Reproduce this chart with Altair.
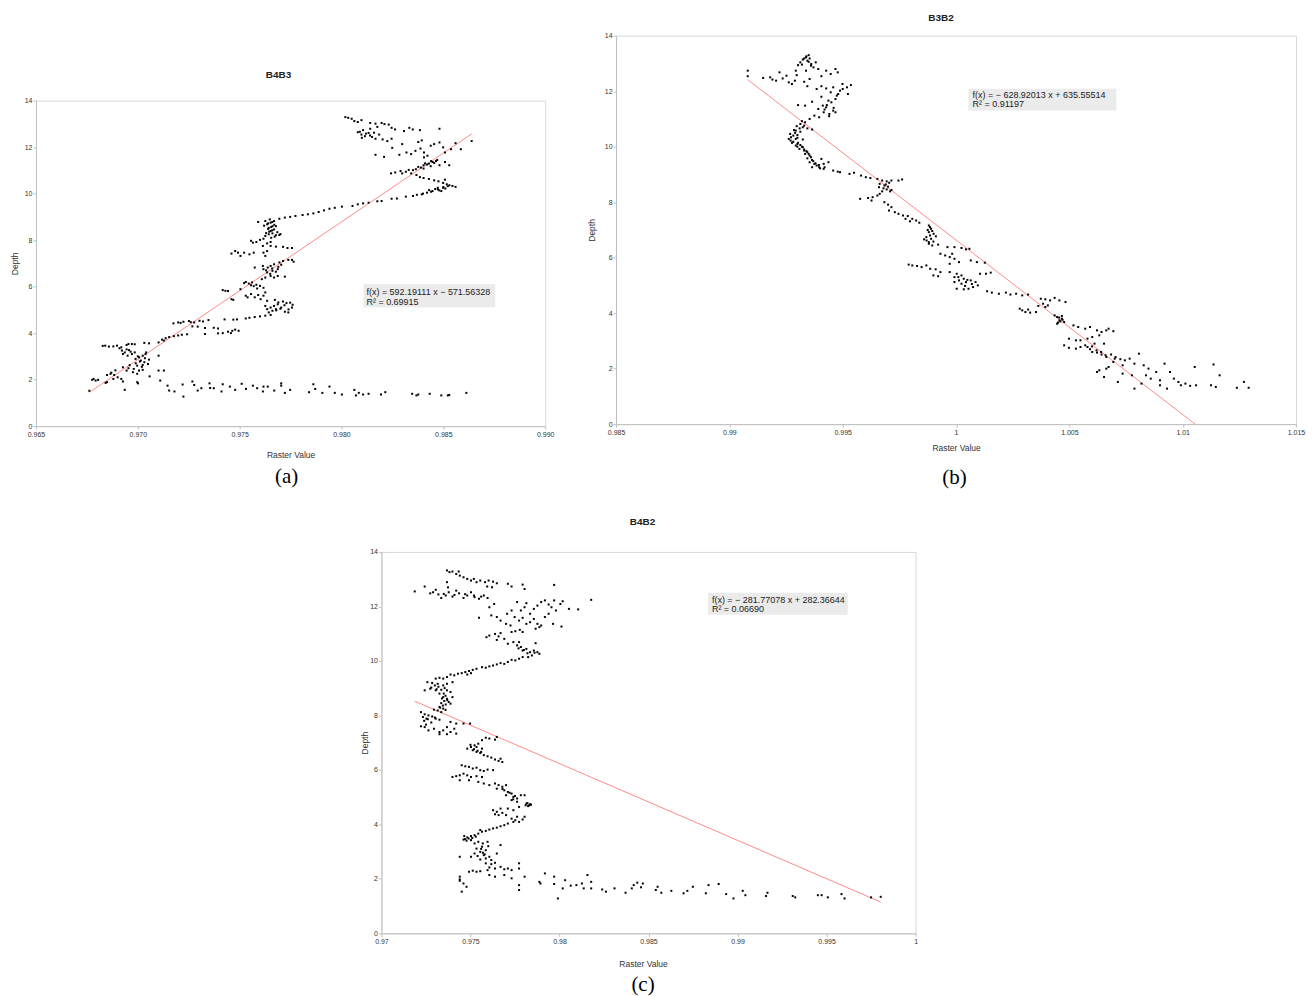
import altair as alt
import pandas as pd

# ---------------- data ----------------
TITLES = ["B4B3", "B3B2", "B4B2"]
CAPTIONS = ["(a)", "(b)", "(c)"]
EQUATIONS = ["f(x) = 592.19111 x − 571.56328",
             "f(x) = − 628.92013 x + 635.55514",
             "f(x) = − 281.77078 x + 282.36644"]
R_SQUARED = ["R² = 0.69915", "R² = 0.91197", "R² = 0.06690"]
SLOPES = [592.19111, -628.92013, -281.77078]
INTERCEPTS = [-571.56328, 635.55514, 282.36644]
X_DOMAINS = [[0.965, 0.990], [0.985, 1.015], [0.97, 1.0]]
X_TICKS = [[0.965, 0.970, 0.975, 0.980, 0.985, 0.990],
           [0.985, 0.99, 0.995, 1, 1.005, 1.01, 1.015],
           [0.97, 0.975, 0.98, 0.985, 0.99, 0.995, 1]]
X_FORMATS = [".3f", "~g", "~g"]
Y_TICKS = [0, 2, 4, 6, 8, 10, 12, 14]

# (raster value, depth)
A_POINTS = [
    (0.96762, 1.52), (0.96936, 1.56), (0.97001, 1.84), (0.97058, 2.14), (0.97102, 2.39), (0.97128, 2.39),
    (0.97110, 1.96), (0.97146, 1.74), (0.97154, 1.53), (0.97180, 1.49), (0.97224, 1.27), (0.97220, 1.79),
    (0.97268, 1.92), (0.97277, 1.77), (0.97294, 1.53), (0.97312, 1.63), (0.97352, 1.84), (0.97355, 1.64),
    (0.97373, 1.63), (0.97411, 1.49), (0.97417, 1.80), (0.97452, 1.70), (0.97478, 1.56), (0.97510, 1.82),
    (0.97531, 1.60), (0.97565, 1.74), (0.97586, 1.63), (0.97617, 1.70), (0.97614, 1.49), (0.97638, 1.70),
    (0.97670, 1.53), (0.97704, 1.84), (0.97704, 1.74), (0.97722, 1.43), (0.97748, 1.56), (0.97841, 1.46),
    (0.97862, 1.80), (0.97871, 1.60), (0.97906, 1.43), (0.97941, 1.70), (0.97967, 1.43), (0.98002, 1.36),
    (0.98063, 1.56), (0.98071, 1.32), (0.98085, 1.43), (0.98106, 1.36), (0.98133, 1.39), (0.98194, 1.36),
    (0.98215, 1.46), (0.98347, 1.39), (0.98368, 1.32), (0.98377, 1.36), (0.98433, 1.39), (0.98490, 1.32),
    (0.98522, 1.32), (0.98529, 1.34), (0.98613, 1.43),
    (0.96828, 3.45), (0.96840, 3.46), (0.96858, 3.42), (0.96880, 3.43), (0.96898, 3.46), (0.96919, 3.39),
    (0.96945, 3.49), (0.96954, 3.53), (0.96971, 3.53), (0.96985, 3.52), (0.97032, 3.58), (0.97055, 3.56),
    (0.96910, 3.35), (0.96922, 3.25), (0.96936, 3.17), (0.96957, 3.27), (0.96971, 3.10), (0.96985, 3.17),
    (0.96927, 3.10), (0.96950, 3.03), (0.96989, 2.89), (0.97006, 2.96), (0.97024, 3.03), (0.97038, 3.10),
    (0.97015, 2.82), (0.97032, 2.75), (0.97050, 2.67), (0.97024, 2.63), (0.96997, 2.60), (0.97055, 2.86),
    (0.97102, 3.03), (0.97041, 3.17), (0.96927, 2.53), (0.96954, 2.49), (0.96980, 2.46), (0.97006, 2.39),
    (0.96976, 2.32), (0.96997, 2.25), (0.97024, 2.42), (0.96945, 2.39), (0.96783, 2.03), (0.96793, 1.96),
    (0.96805, 1.99), (0.96842, 1.86), (0.96849, 2.20), (0.96866, 2.25), (0.96884, 2.20), (0.96901, 2.10),
    (0.96919, 2.03), (0.96927, 1.92), (0.96849, 1.89), (0.96880, 2.03), (0.96997, 1.89), (0.96776, 1.99),
    (0.96990, 2.70), (0.97010, 2.78), (0.97035, 2.92), (0.97000, 3.00), (0.96965, 3.20), (0.96945, 3.30),
    (0.97020, 2.55), (0.96960, 2.62), (0.96890, 2.40), (0.96870, 2.30),
    (0.97102, 3.60), (0.97119, 3.72), (0.97137, 3.78), (0.97154, 3.83), (0.97177, 3.87), (0.97198, 3.90),
    (0.97216, 3.93), (0.97242, 3.95), (0.97128, 3.68),
    (0.97175, 4.42), (0.97198, 4.46), (0.97224, 4.49), (0.97251, 4.52), (0.97277, 4.46), (0.97303, 4.53),
    (0.97347, 4.56), (0.97268, 4.29), (0.97294, 4.28), (0.97330, 4.22), (0.97373, 4.23), (0.97394, 4.20),
    (0.97330, 3.96), (0.97394, 3.99), (0.97417, 4.00), (0.97443, 4.06), (0.97464, 4.10), (0.97478, 4.15),
    (0.97495, 4.10), (0.97457, 4.00), (0.97426, 4.59), (0.97210, 4.44), (0.97260, 4.47), (0.97320, 4.50),
    (0.97469, 4.58), (0.97487, 4.59), (0.97530, 4.63), (0.97548, 4.66), (0.97574, 4.69), (0.97600, 4.72),
    (0.97626, 4.75), (0.97652, 4.78), (0.97643, 4.89), (0.97661, 4.96), (0.97678, 5.03), (0.97652, 5.10),
    (0.97669, 5.17), (0.97687, 5.24), (0.97704, 5.10), (0.97722, 4.92), (0.97739, 4.89), (0.97757, 5.10),
    (0.97748, 5.31), (0.97713, 5.36), (0.97673, 5.43), (0.97730, 5.29), (0.97635, 5.03), (0.97626, 5.17),
    (0.97680, 4.98), (0.97700, 5.05), (0.97720, 5.20), (0.97690, 5.32), (0.97740, 5.02), (0.97760, 5.22),
    (0.97417, 5.85), (0.97430, 5.82), (0.97443, 5.81), (0.97460, 5.46), (0.97469, 5.43), (0.97530, 5.61),
    (0.97539, 5.54), (0.97574, 5.54), (0.97591, 5.64), (0.97617, 5.61), (0.97603, 5.46), (0.97626, 5.75),
    (0.97556, 5.68), (0.97635, 5.39), (0.97504, 5.89),
    (0.97522, 6.15), (0.97530, 6.20), (0.97545, 6.13), (0.97556, 6.06), (0.97569, 6.02), (0.97582, 6.08),
    (0.97600, 6.03), (0.97617, 5.95), (0.97586, 5.92), (0.97561, 6.18),
    (0.97609, 6.32), (0.97626, 6.39), (0.97652, 6.46), (0.97669, 6.39), (0.97687, 6.46), (0.97722, 6.43),
    (0.97635, 6.61), (0.97661, 6.68), (0.97678, 6.64), (0.97617, 6.75), (0.97638, 6.82), (0.97614, 6.89),
    (0.97652, 6.89), (0.97669, 6.96), (0.97695, 7.04), (0.97713, 7.10), (0.97739, 7.15), (0.97765, 7.07),
    (0.97704, 6.94), (0.97574, 6.82), (0.97687, 6.75), (0.97757, 7.15),
    (0.97650, 6.55), (0.97630, 6.70), (0.97660, 6.78), (0.97690, 6.85),
    (0.97460, 7.42), (0.97478, 7.53), (0.97492, 7.46), (0.97504, 7.32), (0.97522, 7.46), (0.97548, 7.39),
    (0.97569, 7.46), (0.97617, 7.46), (0.97626, 7.32), (0.97652, 7.75), (0.97678, 7.72), (0.97713, 7.71),
    (0.97735, 7.66), (0.97757, 7.66), (0.97635, 7.53),
    (0.97556, 7.97), (0.97565, 7.89), (0.97582, 7.92), (0.97600, 8.01), (0.97617, 8.06), (0.97635, 7.86),
    (0.97652, 7.92), (0.97614, 7.75),
    (0.97626, 8.18), (0.97643, 8.25), (0.97661, 8.29), (0.97678, 8.21), (0.97695, 8.22), (0.97652, 8.39),
    (0.97669, 8.46), (0.97643, 8.53), (0.97661, 8.60), (0.97635, 8.68), (0.97652, 8.75), (0.97626, 8.82),
    (0.97669, 8.82), (0.97591, 8.78), (0.97648, 8.89), (0.97678, 8.60),
    (0.97630, 8.30), (0.97645, 8.36), (0.97660, 8.42), (0.97640, 8.48), (0.97655, 8.56), (0.97670, 8.66),
    (0.97640, 8.72), (0.97660, 8.78), (0.97620, 8.62), (0.97685, 8.34), (0.97700, 8.26), (0.97672, 8.15),
    (0.97655, 8.10),
    (0.97695, 8.92), (0.97722, 8.97), (0.97748, 9.00), (0.97774, 9.04), (0.97809, 9.08), (0.97835, 9.11),
    (0.97862, 9.15), (0.97888, 9.21), (0.97914, 9.28), (0.97941, 9.35), (0.97967, 9.39), (0.98002, 9.44),
    (0.98054, 9.47), (0.98080, 9.54), (0.98106, 9.58), (0.98133, 9.61), (0.98176, 9.67), (0.98197, 9.68),
    (0.98246, 9.78), (0.98272, 9.79), (0.98316, 9.87), (0.98351, 9.90), (0.98394, 9.97), (0.98420, 10.04),
    (0.98447, 10.11), (0.98473, 10.18), (0.98499, 10.25), (0.98522, 10.32), (0.98560, 10.29),
    (0.98473, 10.25), (0.98490, 10.11),
    (0.98430, 10.15), (0.98460, 10.20), (0.98500, 10.28), (0.98530, 10.36), (0.98545, 10.33),
    (0.98510, 10.22), (0.98480, 10.14), (0.98440, 10.08), (0.98400, 10.00), (0.98370, 9.95),
    (0.98517, 10.40), (0.98499, 10.46), (0.98476, 10.53), (0.98455, 10.57), (0.98429, 10.63),
    (0.98403, 10.67), (0.98385, 10.71), (0.98508, 10.60),
    (0.98368, 10.80), (0.98342, 10.87), (0.98316, 10.94), (0.98290, 10.97), (0.98264, 10.91),
    (0.98243, 10.87), (0.98298, 10.87), (0.98351, 11.01),
    (0.98377, 11.15), (0.98403, 11.22), (0.98429, 11.29), (0.98447, 11.36), (0.98464, 11.40),
    (0.98403, 11.08), (0.98438, 11.18), (0.98529, 11.22), (0.98508, 11.36), (0.98481, 11.22),
    (0.98390, 11.12), (0.98420, 11.25), (0.98455, 11.32), (0.98470, 11.45), (0.98440, 11.40),
    (0.98410, 11.30), (0.98365, 11.05), (0.98330, 11.02),
    (0.98167, 11.67), (0.98209, 11.58), (0.98249, 11.97), (0.98284, 11.67), (0.98319, 11.77),
    (0.98342, 11.70), (0.98363, 11.84), (0.98388, 11.94), (0.98405, 11.77), (0.98422, 11.63),
    (0.98377, 12.22), (0.98394, 12.29), (0.98438, 12.06), (0.98455, 12.13), (0.98481, 12.20),
    (0.98499, 11.99), (0.98538, 11.91), (0.98560, 12.17), (0.98586, 11.91), (0.98639, 12.26),
    (0.98405, 11.56), (0.98508, 11.77),
    (0.98080, 12.64), (0.98098, 12.54), (0.98115, 12.47), (0.98133, 12.61), (0.98150, 12.44),
    (0.98167, 12.36), (0.98185, 12.54), (0.98202, 12.33), (0.98225, 12.26), (0.98246, 12.36),
    (0.98106, 12.73), (0.98141, 12.79), (0.98176, 12.87), (0.98211, 12.99), (0.98246, 12.83),
    (0.98263, 12.76), (0.98307, 12.69), (0.98333, 12.83), (0.98350, 12.76), (0.98385, 12.73),
    (0.98481, 12.79), (0.98298, 12.13), (0.98197, 13.04), (0.98232, 12.97),
    (0.98120, 12.58), (0.98140, 12.50), (0.98100, 12.40), (0.98160, 12.62), (0.98090, 12.66),
    (0.98019, 13.29), (0.98033, 13.26), (0.98050, 13.22), (0.98063, 13.12), (0.98080, 13.08),
    (0.98098, 13.16), (0.98141, 13.04), (0.98167, 13.01),
]

B_POINTS = [
    (0.99081, 12.74), (0.99081, 12.54), (0.99149, 12.48), (0.99180, 12.50), (0.99190, 12.42), (0.99206, 12.38),
    (0.99221, 12.68), (0.99235, 12.46), (0.99252, 12.56), (0.99262, 12.32), (0.99276, 12.26), (0.99289, 12.38),
    (0.99293, 12.74), (0.99297, 12.58), (0.99303, 12.94), (0.99313, 13.04), (0.99324, 13.14), (0.99338, 13.22),
    (0.99350, 13.30), (0.99344, 13.10), (0.99354, 13.18), (0.99361, 12.98), (0.99371, 12.86), (0.99381, 13.04),
    (0.99392, 12.80), (0.99338, 12.74), (0.99330, 12.34), (0.99344, 12.18), (0.99354, 12.44), (0.99406, 12.54),
    (0.99427, 12.74), (0.99447, 12.62), (0.99468, 12.80), (0.99478, 12.68),
    (0.99340, 13.26), (0.99330, 13.18), (0.99350, 13.06), (0.99360, 12.92), (0.99320, 12.96),
    (0.99385, 12.08), (0.99406, 12.18), (0.99427, 12.10), (0.99447, 11.96), (0.99458, 12.14), (0.99474, 11.84),
    (0.99488, 12.02), (0.99499, 12.26), (0.99519, 12.14), (0.99536, 12.22), (0.99523, 11.90), (0.99468, 11.72),
    (0.99437, 11.66), (0.99412, 11.48), (0.99392, 11.36), (0.99427, 11.42), (0.99458, 11.30), (0.99441, 11.18),
    (0.99468, 11.24), (0.99416, 11.24), (0.99396, 11.06), (0.99375, 11.12), (0.99334, 11.48), (0.99303, 11.50),
    (0.99365, 11.62), (0.99406, 11.80),
    (0.99450, 11.60), (0.99480, 11.90), (0.99500, 12.08), (0.99430, 11.50), (0.99420, 11.34), (0.99440, 11.10),
    (0.99460, 11.40),
    (0.99354, 11.00), (0.99334, 10.88), (0.99313, 10.82), (0.99297, 10.74), (0.99324, 10.70), (0.99344, 10.66),
    (0.99365, 10.62), (0.99293, 10.58), (0.99313, 10.54),
    (0.99268, 10.46), (0.99282, 10.40), (0.99272, 10.34), (0.99293, 10.28), (0.99282, 10.18), (0.99303, 10.14),
    (0.99293, 10.04), (0.99313, 10.06), (0.99324, 9.98), (0.99309, 9.92), (0.99330, 9.86), (0.99344, 9.80),
    (0.99262, 10.28), (0.99276, 10.14), (0.99324, 10.26),
    (0.99290, 10.50), (0.99300, 10.42), (0.99270, 10.22), (0.99300, 10.10), (0.99320, 10.00), (0.99330, 9.90),
    (0.99340, 9.84), (0.99350, 9.74), (0.99360, 9.62), (0.99370, 9.48), (0.99380, 9.40), (0.99395, 9.34),
    (0.99400, 9.22), (0.99420, 9.26), (0.99300, 10.32), (0.99285, 10.60), (0.99310, 10.66), (0.99330, 10.76),
    (0.99320, 10.92), (0.99300, 10.00),
    (0.99334, 9.74), (0.99354, 9.68), (0.99344, 9.58), (0.99365, 9.52), (0.99354, 9.44), (0.99375, 9.38),
    (0.99385, 9.32), (0.99365, 9.26), (0.99396, 9.26), (0.99416, 9.20), (0.99437, 9.44), (0.99416, 9.38),
    (0.99406, 9.56),
    (0.99458, 9.14), (0.99478, 9.10), (0.99488, 9.08), (0.99530, 9.02), (0.99550, 9.06), (0.99581, 8.96),
    (0.99602, 8.90), (0.99622, 8.87),
    (0.99653, 8.84), (0.99674, 8.78), (0.99694, 8.75), (0.99715, 8.78), (0.99746, 8.78), (0.99762, 8.82),
    (0.99663, 8.66), (0.99684, 8.60), (0.99660, 8.54), (0.99694, 8.46), (0.99709, 8.39), (0.99674, 8.39),
    (0.99680, 8.50), (0.99700, 8.56), (0.99690, 8.64), (0.99705, 8.70), (0.99715, 8.44),
    (0.99577, 8.12), (0.99612, 8.15), (0.99632, 8.18), (0.99653, 8.24), (0.99627, 8.06), (0.99663, 8.30),
    (0.99684, 8.00), (0.99700, 7.91), (0.99715, 7.82), (0.99704, 7.70), (0.99730, 7.64), (0.99746, 7.58),
    (0.99766, 7.52), (0.99787, 7.50), (0.99807, 7.40), (0.99824, 7.34), (0.99797, 7.31), (0.99838, 7.26),
    (0.99777, 7.40),
    (0.99880, 7.16), (0.99890, 7.04), (0.99880, 6.92), (0.99901, 6.86), (0.99869, 6.74), (0.99890, 6.68),
    (0.99911, 6.77), (0.99880, 6.56), (0.99895, 6.44), (0.99921, 6.47), (0.99859, 6.66),
    (0.99885, 7.10), (0.99875, 7.00), (0.99895, 6.96), (0.99885, 6.80), (0.99870, 6.62), (0.99900, 6.58),
    (0.99880, 6.50),
    (0.99962, 6.38), (0.99993, 6.38), (1.00024, 6.35), (1.00044, 6.30), (1.00059, 6.32),
    (0.99931, 6.14), (0.99952, 6.08), (0.99972, 6.02), (0.99993, 5.96), (0.99983, 6.14), (1.00013, 5.84),
    (1.00065, 5.90), (1.00092, 5.84), (1.00127, 5.82), (0.99972, 5.78),
    (0.99791, 5.75), (0.99807, 5.72), (0.99828, 5.70), (0.99848, 5.66), (0.99869, 5.72), (0.99886, 5.60),
    (0.99910, 5.58), (0.99931, 5.48), (0.99900, 5.36), (0.99921, 5.33),
    (0.99972, 5.48), (1.00003, 5.42), (1.00024, 5.36), (1.00034, 5.24), (1.00013, 5.18), (0.99993, 5.12),
    (1.00024, 5.06), (1.00044, 5.12), (1.00065, 5.18), (1.00086, 5.12), (1.00096, 5.00), (1.00075, 4.94),
    (1.00055, 4.88), (1.00034, 4.86), (1.00003, 4.88), (1.00106, 5.42), (1.00132, 5.42), (1.00153, 5.46),
    (0.99993, 5.30), (1.00010, 5.30), (1.00050, 5.20), (1.00070, 5.05), (1.00040, 4.98),
    (1.00137, 4.79), (1.00158, 4.74), (1.00189, 4.70), (1.00220, 4.74), (1.00240, 4.67), (1.00265, 4.70),
    (1.00292, 4.64), (1.00318, 4.67),
    (1.00281, 4.16), (1.00292, 4.10), (1.00306, 4.04), (1.00327, 4.02), (1.00353, 4.04), (1.00318, 4.13),
    (1.00374, 4.52), (1.00394, 4.50), (1.00415, 4.46), (1.00435, 4.55), (1.00456, 4.46), (1.00483, 4.40),
    (1.00384, 4.34), (1.00405, 4.28), (1.00363, 4.26), (1.00394, 4.22),
    (1.00435, 3.92), (1.00446, 3.86), (1.00467, 3.80), (1.00456, 3.74), (1.00477, 3.68), (1.00446, 3.62),
    (1.00467, 3.90), (1.00455, 3.84), (1.00460, 3.70), (1.00470, 3.76), (1.00450, 3.66),
    (1.00518, 3.56), (1.00539, 3.50), (1.00570, 3.44), (1.00591, 3.50), (1.00622, 3.38), (1.00642, 3.32),
    (1.00663, 3.38), (1.00673, 3.44), (1.00694, 3.35), (1.00632, 3.20), (1.00601, 3.14), (1.00580, 3.08),
    (1.00549, 3.02), (1.00498, 3.08), (1.00529, 3.02), (1.00611, 2.90), (1.00653, 2.90),
    (1.00477, 2.84), (1.00498, 2.75), (1.00529, 2.72), (1.00549, 2.78), (1.00570, 2.84), (1.00591, 2.70),
    (1.00601, 2.60), (1.00580, 2.78),
    (1.00600, 2.80), (1.00620, 2.66), (1.00640, 2.60), (1.00660, 2.48), (1.00700, 2.36),
    (1.00622, 2.58), (1.00642, 2.51), (1.00663, 2.42), (1.00684, 2.51), (1.00704, 2.42), (1.00725, 2.34),
    (1.00745, 2.30), (1.00766, 2.36), (1.00787, 2.18), (1.00807, 2.54), (1.00828, 2.12), (1.00849, 2.00),
    (1.00735, 2.12), (1.00694, 2.24), (1.00673, 2.06),
    (1.00622, 1.88), (1.00632, 1.94), (1.00663, 2.00), (1.00653, 1.70), (1.00714, 1.52), (1.00735, 1.82),
    (1.00776, 1.76),
    (1.00787, 1.28), (1.00838, 1.76), (1.00859, 1.64), (1.00883, 1.88), (1.00900, 1.58), (1.00920, 2.18),
    (1.00931, 1.28), (1.00944, 1.88), (1.00961, 1.64), (1.00981, 1.52), (1.00992, 1.40), (1.01012, 1.46),
    (1.01033, 1.38), (1.01053, 2.06), (1.01059, 1.40), (1.01125, 1.40), (1.01146, 1.34), (1.01136, 2.15),
    (1.01163, 1.76), (1.01239, 1.31), (1.01270, 1.52), (1.01291, 1.31), (1.00900, 1.40), (1.00818, 1.46),
]

C_POINTS = [
    (0.97368, 13.32), (0.97382, 13.26), (0.97399, 13.28), (0.97420, 13.19), (0.97434, 13.28), (0.97440, 13.13),
    (0.97461, 13.07), (0.97482, 13.01), (0.97503, 12.95), (0.97519, 13.01), (0.97534, 12.89), (0.97555, 12.95),
    (0.97582, 12.89), (0.97602, 12.95), (0.97627, 12.91), (0.97648, 12.85), (0.97621, 12.70), (0.97594, 12.73),
    (0.97710, 12.83), (0.97731, 12.73), (0.97793, 12.80), (0.97804, 12.64), (0.97970, 12.79),
    (0.97187, 12.55), (0.97243, 12.73), (0.97274, 12.48), (0.97305, 12.61), (0.97320, 12.44), (0.97336, 12.31),
    (0.97361, 12.40), (0.97378, 12.52), (0.97399, 12.36), (0.97420, 12.58), (0.97436, 12.48), (0.97461, 12.31),
    (0.97482, 12.40), (0.97503, 12.52), (0.97523, 12.34), (0.97548, 12.28), (0.97575, 12.40), (0.97596, 12.31),
    (0.97368, 12.89), (0.97374, 12.70),
    (0.97290, 12.52), (0.97350, 12.46), (0.97410, 12.42), (0.97470, 12.45), (0.97520, 12.40), (0.97560, 12.36),
    (0.97606, 11.97), (0.97633, 12.09), (0.97617, 11.67), (0.97648, 11.61), (0.97548, 11.58), (0.97669, 11.48),
    (0.97706, 11.73), (0.97731, 11.85), (0.97762, 12.16), (0.97783, 11.85), (0.97804, 11.97), (0.97814, 12.12),
    (0.97835, 11.73), (0.97856, 11.91), (0.97876, 12.03), (0.97897, 12.16), (0.97918, 12.22), (0.97939, 12.07),
    (0.97955, 11.97), (0.97970, 12.22), (0.97980, 11.85), (0.98005, 12.09), (0.98018, 12.19), (0.98053, 11.91),
    (0.98105, 11.89), (0.98178, 12.24),
    (0.97748, 11.61), (0.97773, 11.48), (0.97793, 11.58), (0.97814, 11.36), (0.97835, 11.42), (0.97856, 11.54),
    (0.97876, 11.36), (0.97887, 11.24), (0.97897, 11.30), (0.97866, 11.18), (0.97918, 11.61), (0.97939, 11.73),
    (0.97964, 11.36), (0.98011, 11.26), (0.97700, 11.36), (0.97725, 11.30),
    (0.97590, 10.87), (0.97606, 10.93), (0.97638, 10.99), (0.97658, 10.90), (0.97669, 11.02), (0.97690, 10.81),
    (0.97731, 11.06), (0.97752, 11.09), (0.97777, 11.14), (0.97793, 11.06), (0.97648, 10.77),
    (0.97710, 10.63), (0.97741, 10.69), (0.97762, 10.57), (0.97773, 10.69), (0.97783, 10.51), (0.97793, 10.38),
    (0.97814, 10.44), (0.97835, 10.32), (0.97856, 10.38), (0.97876, 10.32), (0.97887, 10.26), (0.97845, 10.20),
    (0.97866, 10.65), (0.97824, 10.14),
    (0.97800, 10.40), (0.97820, 10.28), (0.97860, 10.30), (0.97770, 10.46),
    (0.97793, 10.14), (0.97773, 10.08), (0.97752, 10.02), (0.97731, 10.04), (0.97710, 9.96), (0.97690, 9.89),
    (0.97669, 9.92), (0.97648, 9.87), (0.97627, 9.83), (0.97606, 9.80), (0.97586, 9.75), (0.97565, 9.77),
    (0.97534, 9.71), (0.97513, 9.67), (0.97492, 9.63), (0.97471, 9.59), (0.97451, 9.55), (0.97430, 9.53),
    (0.97409, 9.47), (0.97388, 9.50), (0.97368, 9.41), (0.97347, 9.35), (0.97326, 9.38), (0.97305, 9.35),
    (0.97482, 9.50), (0.97503, 9.55),
    (0.97258, 9.22), (0.97285, 9.19), (0.97316, 9.16), (0.97347, 9.10), (0.97368, 9.16), (0.97399, 9.22),
    (0.97274, 8.98), (0.97305, 8.92), (0.97336, 8.94), (0.97368, 8.92), (0.97243, 8.92), (0.97388, 8.86),
    (0.97326, 8.80),
    (0.97350, 8.80), (0.97360, 8.72), (0.97340, 8.62), (0.97370, 8.56), (0.97345, 8.36), (0.97330, 8.28),
    (0.97360, 8.20), (0.97320, 9.05), (0.97300, 9.10), (0.97280, 9.02), (0.97310, 8.96), (0.97355, 9.00),
    (0.97347, 8.67), (0.97368, 8.61), (0.97353, 8.53), (0.97378, 8.49), (0.97336, 8.45), (0.97361, 8.40),
    (0.97388, 8.43), (0.97399, 8.67), (0.97326, 8.31), (0.97347, 8.25), (0.97316, 8.18), (0.97336, 8.12),
    (0.97295, 8.21),
    (0.97222, 8.12), (0.97243, 8.04), (0.97264, 8.00), (0.97285, 7.96), (0.97305, 7.88), (0.97326, 7.84),
    (0.97233, 7.94), (0.97253, 7.88), (0.97388, 7.76), (0.97420, 7.70), (0.97461, 7.70), (0.97498, 7.70),
    (0.97222, 7.60), (0.97243, 7.57), (0.97264, 7.45), (0.97295, 7.51), (0.97326, 7.39), (0.97347, 7.45),
    (0.97368, 7.57), (0.97388, 7.39), (0.97409, 7.51), (0.97368, 7.31), (0.97326, 7.31), (0.97420, 7.33),
    (0.97240, 7.80), (0.97260, 7.86), (0.97300, 7.92), (0.97280, 7.74), (0.97250, 7.66),
    (0.97586, 7.18), (0.97606, 7.15), (0.97638, 7.11), (0.97648, 7.21), (0.97565, 7.09), (0.97544, 6.96),
    (0.97523, 6.90), (0.97503, 6.84), (0.97482, 6.78), (0.97513, 6.72), (0.97534, 6.66), (0.97555, 6.62),
    (0.97575, 6.54), (0.97596, 6.50), (0.97617, 6.45), (0.97638, 6.38), (0.97658, 6.33), (0.97679, 6.29),
    (0.97669, 6.41), (0.97534, 6.84), (0.97565, 6.78),
    (0.97520, 6.76), (0.97540, 6.70), (0.97560, 6.66), (0.97500, 6.92),
    (0.97451, 6.17), (0.97471, 6.13), (0.97492, 6.11), (0.97513, 6.05), (0.97534, 6.08), (0.97555, 5.99),
    (0.97575, 5.96), (0.97596, 6.01), (0.97627, 5.99), (0.97399, 5.74), (0.97420, 5.77), (0.97440, 5.80),
    (0.97461, 5.86), (0.97482, 5.80), (0.97503, 5.74), (0.97534, 5.77), (0.97565, 5.74), (0.97440, 5.62),
    (0.97492, 5.62), (0.97544, 5.56),
    (0.97575, 5.50), (0.97606, 5.44), (0.97638, 5.50), (0.97658, 5.44), (0.97679, 5.38), (0.97700, 5.44),
    (0.97648, 5.31), (0.97690, 5.25), (0.97710, 5.19), (0.97731, 5.13), (0.97700, 5.07), (0.97741, 5.01),
    (0.97762, 4.95), (0.97731, 4.89), (0.97783, 5.07), (0.97804, 5.07), (0.97762, 4.83),
    (0.97680, 5.30), (0.97720, 5.16), (0.97750, 5.04), (0.97740, 4.92),
    (0.97814, 4.76), (0.97835, 4.74), (0.97824, 4.67), (0.97830, 4.70), (0.97840, 4.72), (0.97820, 4.78),
    (0.97810, 4.70),
    (0.97627, 4.52), (0.97648, 4.46), (0.97638, 4.37), (0.97658, 4.34), (0.97679, 4.42), (0.97700, 4.34),
    (0.97669, 4.58), (0.97710, 4.58), (0.97741, 4.52), (0.97773, 4.64),
    (0.97731, 4.21), (0.97752, 4.15), (0.97773, 4.09), (0.97793, 4.18), (0.97762, 4.28), (0.97804, 4.28),
    (0.97741, 4.09),
    (0.97710, 4.03), (0.97690, 3.97), (0.97669, 3.93), (0.97648, 3.88), (0.97627, 3.85), (0.97606, 3.81),
    (0.97586, 3.76), (0.97565, 3.73), (0.97544, 3.66), (0.97523, 3.60), (0.97503, 3.57), (0.97482, 3.52),
    (0.97461, 3.44), (0.97478, 3.40), (0.97503, 3.42), (0.97465, 3.57), (0.97555, 3.79),
    (0.97470, 3.46), (0.97490, 3.48), (0.97510, 3.50), (0.97530, 3.55),
    (0.97523, 3.30), (0.97544, 3.36), (0.97569, 3.30), (0.97596, 3.36), (0.97565, 3.18), (0.97534, 3.11),
    (0.97586, 3.05), (0.97555, 2.99), (0.97523, 2.93), (0.97575, 2.87), (0.97606, 2.81), (0.97586, 2.75),
    (0.97555, 2.71), (0.97617, 2.69), (0.97669, 3.24), (0.97648, 2.93), (0.97503, 2.81), (0.97440, 2.81),
    (0.97560, 3.10), (0.97570, 2.96), (0.97580, 2.90), (0.97540, 2.84), (0.97600, 3.20),
    (0.97586, 2.57), (0.97617, 2.54), (0.97638, 2.59), (0.97606, 2.42), (0.97638, 2.38), (0.97669, 2.44),
    (0.97690, 2.35), (0.97710, 2.38), (0.97731, 2.32), (0.97773, 2.57), (0.97492, 2.26), (0.97513, 2.30),
    (0.97534, 2.26), (0.97555, 2.28), (0.97596, 2.32),
    (0.97440, 2.08), (0.97440, 1.98), (0.97440, 1.93), (0.97451, 1.53), (0.97478, 1.71), (0.97461, 1.83),
    (0.97606, 2.14), (0.97638, 2.08), (0.97690, 2.14), (0.97731, 2.02), (0.97773, 2.38), (0.97773, 1.59),
    (0.97773, 1.77), (0.97804, 2.08),
    (0.97887, 1.89), (0.97893, 1.83), (0.97918, 2.20), (0.97970, 2.08), (0.97970, 1.81), (0.97991, 1.28),
    (0.98032, 1.95), (0.98018, 1.65), (0.98063, 1.75), (0.98095, 1.77), (0.98126, 1.83), (0.98136, 1.65),
    (0.98157, 2.14), (0.98178, 1.89), (0.98178, 1.65), (0.98240, 1.61), (0.98261, 1.53), (0.98309, 1.65),
    (0.98371, 1.49), (0.98406, 1.65), (0.98417, 1.77), (0.98437, 1.86), (0.98468, 1.83), (0.98458, 1.69),
    (0.98541, 1.59), (0.98551, 1.71), (0.98572, 1.49), (0.98628, 1.56), (0.98697, 1.47), (0.98718, 1.56),
    (0.98749, 1.71), (0.98822, 1.47), (0.98837, 1.77), (0.98894, 1.81), (0.98936, 1.44), (0.98977, 1.28),
    (0.99029, 1.56), (0.99044, 1.40), (0.99160, 1.37), (0.99168, 1.49), (0.99310, 1.37), (0.99324, 1.32),
    (0.99451, 1.40), (0.99472, 1.40), (0.99507, 1.32), (0.99584, 1.44), (0.99601, 1.28), (0.99750, 1.32),
    (0.99804, 1.34),
]

FONT = "Liberation Sans"
SERIF = "Liberation Serif"


def panel(points, i, width, height, title_offset, title_dx, xtitle_pad, ytitle_pad,
          box, text_x, text_y, cap_xy, xtitle_x=None):
    df = pd.DataFrame(points, columns=["raster", "depth"])
    lo, hi = df["raster"].min(), df["raster"].max()
    trend_df = pd.DataFrame({
        "raster": [lo, hi],
        "depth": [SLOPES[i] * lo + INTERCEPTS[i], SLOPES[i] * hi + INTERCEPTS[i]],
    })
    xscale = alt.Scale(domain=X_DOMAINS[i], nice=False, zero=False)
    yscale = alt.Scale(domain=[0, 14], nice=False, zero=False)
    xaxis_kw = dict(title="Raster Value", values=X_TICKS[i], format=X_FORMATS[i],
                    titlePadding=xtitle_pad, labelFlush=False, labelOverlap=False)
    if xtitle_x is not None:
        xaxis_kw["titleX"] = xtitle_x
    xaxis = alt.Axis(**xaxis_kw)
    yaxis = alt.Axis(title="Depth", values=Y_TICKS, format="d", titlePadding=ytitle_pad,
                     labelFlush=False, labelOverlap=False)

    trend = alt.Chart(trend_df).mark_line(color="#ff8a8a", strokeWidth=1, clip=True).encode(
        x=alt.X("raster:Q", scale=xscale, axis=xaxis),
        y=alt.Y("depth:Q", scale=yscale, axis=yaxis),
    )
    pts = alt.Chart(df).mark_square(size=4, color="#000000", opacity=1).encode(
        x=alt.X("raster:Q", scale=xscale, axis=xaxis),
        y=alt.Y("depth:Q", scale=yscale, axis=yaxis),
    )
    one = pd.DataFrame({"k": [0]})
    rect = alt.Chart(one).mark_rect(color="#ebebeb").encode(
        x=alt.value(box[0]), x2=alt.value(box[1]), y=alt.value(box[2]), y2=alt.value(box[3])
    )
    eq = alt.Chart(pd.DataFrame({"t": [EQUATIONS[i]]})).mark_text(
        align="left", baseline="middle", font=FONT, fontSize=9, color="#222222"
    ).encode(x=alt.value(text_x), y=alt.value(text_y[0]), text="t:N")
    r2 = alt.Chart(pd.DataFrame({"t": [R_SQUARED[i]]})).mark_text(
        align="left", baseline="middle", font=FONT, fontSize=9, color="#222222"
    ).encode(x=alt.value(text_x), y=alt.value(text_y[1]), text="t:N")
    cap = alt.Chart(pd.DataFrame({"t": [CAPTIONS[i]]})).mark_text(
        align="center", baseline="middle", font=SERIF, fontSize=21, color="#000000"
    ).encode(x=alt.value(cap_xy[0]), y=alt.value(cap_xy[1]), text="t:N")

    return alt.layer(trend, pts, rect, eq, r2, cap).properties(
        width=width, height=height,
        title=alt.TitleParams(TITLES[i], offset=title_offset, dx=title_dx, fontSize=10,
                              fontWeight="bold", font=FONT, color="#222222",
                              anchor="middle", frame="group"),
    )


def spacer(w, h):
    return alt.Chart(pd.DataFrame({"k": [0]})).mark_point(opacity=0, size=1).encode(
        x=alt.value(w / 2), y=alt.value(h / 2)
    ).properties(width=w, height=h, view=alt.ViewBackground(strokeOpacity=0))


chart_a = panel(A_POINTS, 0, 510, 326, 17, -12, 13, 5,
                box=(328, 460, 184, 207), text_x=331, text_y=(192, 202), cap_xy=(251, 377))
chart_b = panel(B_POINTS, 1, 681, 389, 9, -15, 8, 8,
                box=(353, 501, 53, 75), text_x=357, text_y=(59, 68), cap_xy=(339, 443))
chart_c = panel(C_POINTS, 2, 535, 382, 21, -6, 15, 0,
                box=(327, 467, 41, 63), text_x=331, text_y=(48, 57), cap_xy=(262, 434),
                xtitle_x=262)

col_a = alt.vconcat(spacer(510, 33), chart_a, spacing=0)
row1 = alt.hconcat(col_a, chart_b, spacing=31)
row2 = alt.hconcat(spacer(324, 10), chart_c, spacing=0)

chart = alt.vconcat(row1, row2, spacing=27).properties(
    padding={"left": 1, "top": 3, "right": 0, "bottom": 0}
).configure_view(
    stroke="#d9d9d9", strokeWidth=1
).configure_axis(
    grid=False, domainColor="#c0c0c0", tickColor="#c0c0c0", tickSize=3,
    labelFont=FONT, labelFontSize=7, labelColor="#333333", labelPadding=1,
    titleFont=FONT, titleFontSize=8.5, titleFontWeight="normal", titleColor="#333333",
)

chart.save("out.html", embed_options={"renderer": "svg", "actions": False})
